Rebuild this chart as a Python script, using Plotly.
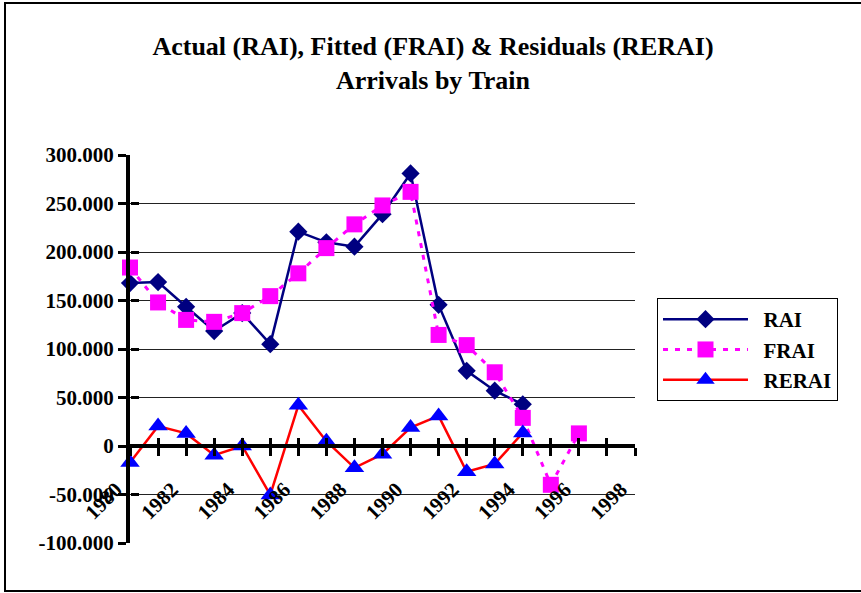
import plotly.graph_objects as go

years = list(range(1980, 1999))
rai_years = list(range(1980, 1995))
rai = [168, 169, 143.5, 118.5, 137, 105, 221, 210, 205.5, 239, 281, 145.5, 77.5, 57, 43]
frai_years = list(range(1980, 1997))
frai = [184, 148, 130, 128, 137, 154.5, 178, 204, 228.5, 248, 262, 114.5, 104, 76, 29, -40, 13]
rerai_years = list(range(1980, 1995))
rerai = [-17, 20.5, 13, -9.5, 0, -50.5, 42, 5, -22.5, -8.5, 19, 31, -26.5, -18.5, 13.5]

series_names = ["RAI", "FRAI", "RERAI"]
x_tick_text = [str(y) if y % 2 == 0 else "" for y in years]
y_tick_vals = [-100, -50, 0, 50, 100, 150, 200, 250, 300]
y_tick_text = ["-100.000", "-50.000", "0", "50.000", "100.000", "150.000", "200.000", "250.000", "300.000"]

FONT = "Liberation Serif, Times New Roman, serif"
y_range = [-100, 300]
zero_pos = (0 - y_range[0]) / (y_range[1] - y_range[0])
PAD = "\u00a0\u00a0"

fig = go.Figure()
fig.add_trace(go.Scatter(
    x=rai_years, y=rai, name=PAD + series_names[0], mode="lines+markers", legendgroup="a",
    line=dict(color="#000080", width=2.5),
    marker=dict(symbol="diamond", size=14, color="#000080"), cliponaxis=False))
fig.add_trace(go.Scatter(
    x=frai_years, y=frai, name=PAD + series_names[1], mode="lines+markers", legendgroup="b",
    line=dict(color="#FF00FF", width=3, dash="5px,7px"),
    marker=dict(symbol="square", size=16, color="#FF00FF"), cliponaxis=False))
fig.add_trace(go.Scatter(
    x=rerai_years, y=rerai, name=PAD + series_names[2], mode="lines+markers", legendgroup="c",
    line=dict(color="#FF0000", width=2.5),
    marker=dict(symbol="triangle-up", size=17, color="#0000FF"), cliponaxis=False))
# empty helper trace so the overlay axes (crossing tick marks) are drawn
fig.add_trace(go.Scatter(
    x=years, y=[None] * len(years), xaxis="x2", yaxis="y2",
    showlegend=False, hoverinfo="skip", mode="lines"))

fig.update_layout(
    width=861, height=593,
    margin=dict(l=130, r=226, t=155, b=50),
    paper_bgcolor="white", plot_bgcolor="white",
    font=dict(family=FONT, color="black"),
    title=dict(
        text="Actual (RAI), Fitted (FRAI) & Residuals (RERAI)<br>Arrivals by Train",
        x=433 / 861, xanchor="center", y=(593 - 55) / 593, yanchor="top",
        font=dict(family=FONT, size=26, weight="bold", color="black")),
    xaxis=dict(
        range=[1980, 1998], tickmode="array", tickvals=years, ticktext=x_tick_text,
        tickangle=-45, tickfont=dict(family=FONT, size=21, weight="bold"),
        ticklabelstandoff=13, ticklabelshift=-14,
        showgrid=False, zeroline=False, showline=True, linecolor="black", linewidth=4,
        ticks="outside", ticklen=8, tickwidth=3, tickcolor="black",
        anchor="free", position=zero_pos),
    xaxis2=dict(
        range=[1980, 1998], tickmode="array", tickvals=years, showticklabels=False,
        overlaying="x", anchor="free", position=zero_pos,
        showgrid=False, zeroline=False, showline=False,
        ticks="inside", ticklen=8, tickwidth=3, tickcolor="black"),
    yaxis=dict(
        range=y_range, tickmode="array", tickvals=y_tick_vals, ticktext=y_tick_text,
        tickfont=dict(family=FONT, size=21, weight="bold"),
        showgrid=True, gridcolor="#222222", gridwidth=1, zeroline=False,
        showline=True, linecolor="black", linewidth=4,
        ticks="outside", ticklen=8, tickwidth=3, tickcolor="black"),
    yaxis2=dict(
        range=y_range, tickmode="array", tickvals=y_tick_vals, showticklabels=False,
        overlaying="y", side="left", anchor="free", position=0,
        showgrid=False, zeroline=False, showline=False,
        ticks="inside", ticklen=8, tickwidth=3, tickcolor="black"),
    legend=dict(
        x=(657 - 130) / 505, y=(543 - 298) / 388, xanchor="left", yanchor="top",
        bordercolor="black", borderwidth=1, bgcolor="white",
        font=dict(family=FONT, size=21, weight="bold", color="black"),
        tracegroupgap=0, itemwidth=85),
    shapes=[dict(type="rect", xref="paper", yref="paper",
                 x0=(5 - 130) / 505, x1=(880 - 130) / 505,
                 y0=(543 - 591) / 388, y1=(543 - 3) / 388,
                 line=dict(color="black", width=2), layer="below")],
)

fig.write_html("out.html", config={"displayModeBar": False},
               post_script="document.body.style.margin='0';")
